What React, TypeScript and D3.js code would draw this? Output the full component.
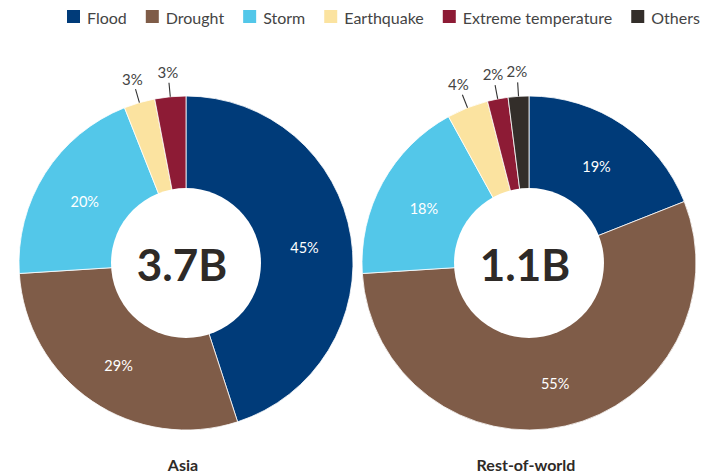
import { useEffect, useRef } from "react";
import * as d3 from "d3";

const categories = ["Flood", "Drought", "Storm", "Earthquake", "Extreme temperature", "Others"];
const colors = ["#003b79", "#7f5c48", "#53c7e9", "#fbe3a0", "#8d1b35", "#332e2a"];

const asiaValues = [45, 29, 20, 3, 3, 0];
const rowValues = [19, 55, 18, 4, 2, 2];
const panelTitles = ["Asia", "Rest-of-world"];
const centerTotals = ["3.7B", "1.1B"];

type Slice = { cat: number; value: number };

const width = 720;
const height = 475;
const font = "Lato, 'Noto Sans', sans-serif";

export default function App() {
  const svgRef = useRef<SVGSVGElement | null>(null);

  useEffect(() => {
    const svg = d3.select(svgRef.current);
    svg.selectAll("*").remove();

    // legend, laid out left to right
    const legend = svg.append("g").attr("transform", "translate(67,17)");
    let lx = 0;
    categories.forEach((c, i) => {
      legend
        .append("rect")
        .attr("x", lx)
        .attr("y", -7)
        .attr("width", 13)
        .attr("height", 13)
        .attr("fill", colors[i]);
      const t = legend
        .append("text")
        .attr("x", lx + 20)
        .attr("y", 0)
        .attr("dominant-baseline", "central")
        .attr("font-family", font)
        .attr("font-size", 16)
        .attr("fill", "#444")
        .text(c);
      const w = (t.node() as SVGTextElement).getComputedTextLength();
      lx += 20 + w + 19;
    });

    const outerR = 167;
    const innerR = 75;
    const centers = [186, 529];
    const cy = 263;

    const pie = d3
      .pie<Slice>()
      .sort(null)
      .value((d) => d.value);
    const arc = d3.arc<d3.PieArcDatum<Slice>>().innerRadius(0).outerRadius(outerR);
    const labelArc = d3
      .arc<d3.PieArcDatum<Slice>>()
      .innerRadius(innerR)
      .outerRadius(outerR - 2);

    [asiaValues, rowValues].forEach((vals, p) => {
      const data: Slice[] = vals
        .map((v, i) => ({ cat: i, value: v }))
        .filter((d) => d.value > 0);
      const g = svg.append("g").attr("transform", `translate(${centers[p]},${cy})`);
      const arcs = pie(data);

      g.selectAll("path.slice")
        .data(arcs)
        .join("path")
        .attr("class", "slice")
        .attr("d", arc)
        .attr("fill", (d) => colors[d.data.cat])
        .attr("stroke", "#fff")
        .attr("stroke-width", 0.8);

      g.append("circle").attr("r", innerR).attr("fill", "#fff");

      arcs.forEach((a) => {
        const mid = (a.startAngle + a.endAngle) / 2;
        if (a.data.value >= 10) {
          const [x, y] = labelArc.centroid(a);
          g.append("text")
            .attr("x", x)
            .attr("y", y + 3)
            .attr("text-anchor", "middle")
            .attr("dominant-baseline", "central")
            .attr("font-family", font)
            .attr("font-size", 14.5)
            .attr("fill", "#fff")
            .text(`${a.data.value}%`);
        } else {
          const sx = Math.sin(mid);
          const sy = -Math.cos(mid);
          g.append("line")
            .attr("x1", sx * outerR)
            .attr("y1", sy * outerR)
            .attr("x2", sx * (outerR + 14))
            .attr("y2", sy * (outerR + 14))
            .attr("stroke", "#333")
            .attr("stroke-width", 1.1);
          g.append("text")
            .attr("x", sx * (outerR + 25))
            .attr("y", sy * (outerR + 25))
            .attr("text-anchor", "middle")
            .attr("dominant-baseline", "central")
            .attr("font-family", font)
            .attr("font-size", 15)
            .attr("fill", "#444")
            .text(`${a.data.value}%`);
        }
      });

      g.append("text")
        .attr("x", -4)
        .attr("y", 1)
        .attr("text-anchor", "middle")
        .attr("dominant-baseline", "central")
        .attr("font-family", font)
        .attr("font-weight", 700)
        .attr("font-size", 44)
        .attr("fill", "#2e2a27")
        .text(centerTotals[p]);

      svg
        .append("text")
        .attr("x", centers[p] - 3)
        .attr("y", 471)
        .attr("text-anchor", "middle")
        .attr("font-family", font)
        .attr("font-weight", 700)
        .attr("font-size", 16)
        .attr("fill", "#2e2a27")
        .text(panelTitles[p]);
    });
  }, []);

  return (
    <svg
      ref={svgRef}
      width={width}
      height={height}
      style={{ position: "absolute", left: 0, top: 0, background: "#fff" }}
    />
  );
}
